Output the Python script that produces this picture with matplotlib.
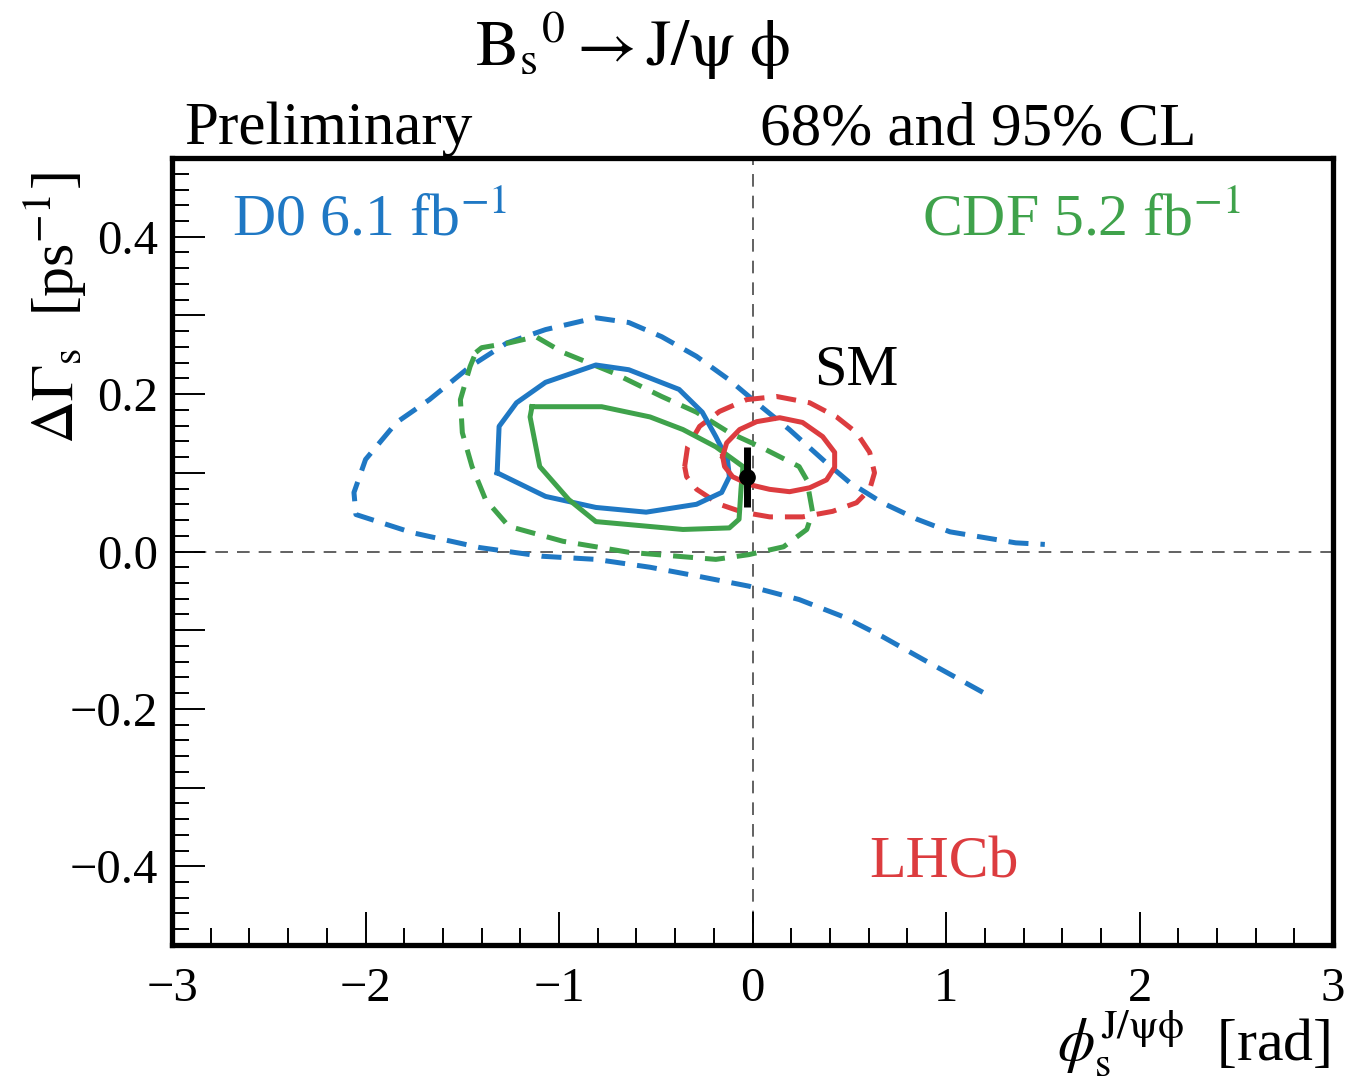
import matplotlib
matplotlib.use("Agg")
import matplotlib.pyplot as plt
from matplotlib.ticker import MultipleLocator, FuncFormatter

plt.rcParams["font.family"] = "serif"
plt.rcParams["font.serif"] = ["Liberation Serif", "DejaVu Serif"]
plt.rcParams["mathtext.fontset"] = "stix"
plt.rcParams["lines.solid_joinstyle"] = "round"
plt.rcParams["lines.dash_joinstyle"] = "round"

# 95% CL D0 contour (open, runs off to the right)
d0_95_x = [1.19, 0.88, 0.67, 0.47, 0.24, -0.02, -0.27, -0.53, -0.81, -1.09, -1.41, -1.76,
           -2.05, -2.06, -2.00, -1.84, -1.67, -1.46, -1.27, -1.07, -0.81, -0.64, -0.47,
           -0.29, -0.12, 0.02, 0.19, 0.38, 0.50, 0.67, 0.85, 1.02, 1.19, 1.36, 1.51]
d0_95_y = [-0.179, -0.137, -0.108, -0.083, -0.061, -0.044, -0.032, -0.020, -0.010, -0.006,
           0.005, 0.024, 0.047, 0.075, 0.117, 0.164, 0.193, 0.235, 0.265, 0.282, 0.297,
           0.291, 0.273, 0.248, 0.218, 0.189, 0.155, 0.113, 0.088, 0.062, 0.041, 0.025,
           0.018, 0.011, 0.009]

# 68% CL D0 contour
d0_68_x = [-1.32, -1.31, -1.22, -1.07, -0.81, -0.64, -0.38, -0.26, -0.19, -0.13, -0.12,
           -0.16, -0.29, -0.55, -0.81, -1.07, -1.32]
d0_68_y = [0.100, 0.159, 0.189, 0.215, 0.237, 0.231, 0.206, 0.177, 0.146, 0.117, 0.095,
           0.075, 0.060, 0.050, 0.056, 0.070, 0.100]

# 68% CL CDF contour
cdf_68_x = [-1.14, -0.78, -0.53, -0.36, -0.19, -0.05, -0.06, -0.07, -0.12, -0.36, -0.81,
            -0.95, -1.10, -1.15, -1.14]
cdf_68_y = [0.184, 0.184, 0.171, 0.155, 0.133, 0.108, 0.079, 0.041, 0.030, 0.028, 0.038,
            0.066, 0.108, 0.171, 0.184]

# 95% CL CDF contour
cdf_95_x = [-1.43, -1.40, -1.26, -1.12, -0.98, -0.72, -0.47, -0.29, -0.12, 0.04, 0.24,
            0.28, 0.31, 0.28, 0.16, -0.02, -0.19, -0.29, -0.64, -0.98, -1.26, -1.38,
            -1.45, -1.50, -1.51, -1.46, -1.43]
cdf_95_y = [0.253, 0.259, 0.265, 0.273, 0.253, 0.227, 0.197, 0.177, 0.151, 0.133, 0.108,
            0.091, 0.050, 0.028, 0.006, -0.004, -0.010, -0.008, -0.001, 0.013, 0.032,
            0.066, 0.108, 0.151, 0.193, 0.235, 0.253]

# 68% CL LHCb contour
lhcb_68_x = [-0.155, -0.134, -0.067, 0.021, 0.140, 0.258, 0.362, 0.424, 0.424, 0.382,
             0.295, 0.191, 0.088, -0.016, -0.103, -0.145, -0.155]
lhcb_68_y = [0.121, 0.138, 0.155, 0.165, 0.170, 0.164, 0.146, 0.126, 0.107, 0.091,
             0.081, 0.076, 0.079, 0.085, 0.095, 0.108, 0.121]

# 95% CL LHCb contour
lhcb_95_x = [-0.351, -0.336, -0.274, -0.171, -0.031, 0.124, 0.295, 0.434, 0.537, 0.605,
             0.630, 0.605, 0.537, 0.413, 0.258, 0.088, -0.052, -0.171, -0.289, -0.341,
             -0.351]
lhcb_95_y = [0.108, 0.133, 0.159, 0.178, 0.193, 0.197, 0.189, 0.171, 0.151, 0.126,
             0.100, 0.079, 0.062, 0.051, 0.044, 0.044, 0.050, 0.060, 0.079, 0.095,
             0.108]

# Standard Model prediction
sm_phi, sm_dg, sm_err = -0.031, 0.095, 0.038

blue = "#1f78c4"
green = "#3fa24b"
red = "#dc3c3f"
dash = (0, (4, 2.4))
lw = 3.6

fig = plt.figure(figsize=(13.58, 10.78), dpi=100)
ax = fig.add_axes([0.1267, 0.1234, 0.855, 0.730])

ax.axhline(0, color="#555555", lw=1.3, ls=(0, (7, 5)), zorder=1)
ax.axvline(0, color="#555555", lw=1.3, ls=(0, (7, 5)), zorder=1)

ax.plot(d0_95_x, d0_95_y, color=blue, lw=lw, ls=dash)
ax.plot(cdf_95_x, cdf_95_y, color=green, lw=lw, ls=dash)
ax.plot(lhcb_95_x, lhcb_95_y, color=red, lw=lw, ls=dash)
ax.plot(d0_68_x, d0_68_y, color=blue, lw=lw)
ax.plot(cdf_68_x, cdf_68_y, color=green, lw=lw)
ax.plot(lhcb_68_x, lhcb_68_y, color=red, lw=lw)

ax.errorbar([sm_phi], [sm_dg], yerr=[sm_err], fmt="o", color="black", ms=11,
            elinewidth=5, capsize=0, zorder=5)

ax.set_xlim(-3, 3)
ax.set_ylim(-0.5, 0.5)

for s in ax.spines.values():
    s.set_linewidth(3.8)

ax.xaxis.set_major_locator(MultipleLocator(1))
ax.xaxis.set_minor_locator(MultipleLocator(0.2))
ax.yaxis.set_major_locator(MultipleLocator(0.1))
ax.yaxis.set_minor_locator(MultipleLocator(0.02))
ax.xaxis.set_major_formatter(FuncFormatter(lambda v, p: f"{v:.0f}".replace("-", "\u2212")))


def yfmt(v, p):
    if round(v * 10) % 2:
        return ""
    return f"{v:.1f}".replace("-", "\u2212")


ax.yaxis.set_major_formatter(FuncFormatter(yfmt))
ax.tick_params(which="both", direction="in", top=False, right=False, labelsize=35, width=1.4)
ax.tick_params(which="major", length=24)
ax.tick_params(which="minor", length=12)
ax.tick_params(axis="x", pad=16)
ax.tick_params(axis="y", pad=10)

ax.text(-2.69, 0.403, r"D0 6.1 fb$^{-1}$", color=blue, fontsize=43)
ax.text(2.52, 0.403, r"CDF 5.2 fb$^{-1}$", color=green, fontsize=43, ha="right")
ax.text(0.32, 0.212, "SM", color="black", fontsize=42)
ax.text(0.605, -0.414, "LHCb", color=red, fontsize=43)

fig.text(0.466, 0.958,
         r"$\mathrm{B_s}^{0}\rightarrow\mathrm{J}/\mathrm{\psi}\ \mathrm{\phi}$",
         fontsize=47, ha="center", va="center")
fig.text(0.136, 0.866, "Preliminary", fontsize=44, ha="left", va="baseline")
fig.text(0.881, 0.866, "68% and 95% CL", fontsize=44, ha="right", va="baseline")
fig.text(0.04, 0.84, r"$\Delta\Gamma_{\mathrm{s}}$  [ps$^{-1}$]", fontsize=43,
         rotation=90, ha="center", va="top")
fig.text(0.979, 0.017,
         r"$\phi_{\mathrm{s}}^{\mathrm{J/\psi\phi}}$  [rad]", fontsize=43,
         ha="right", va="baseline")

fig.savefig("out.png", dpi=100)
